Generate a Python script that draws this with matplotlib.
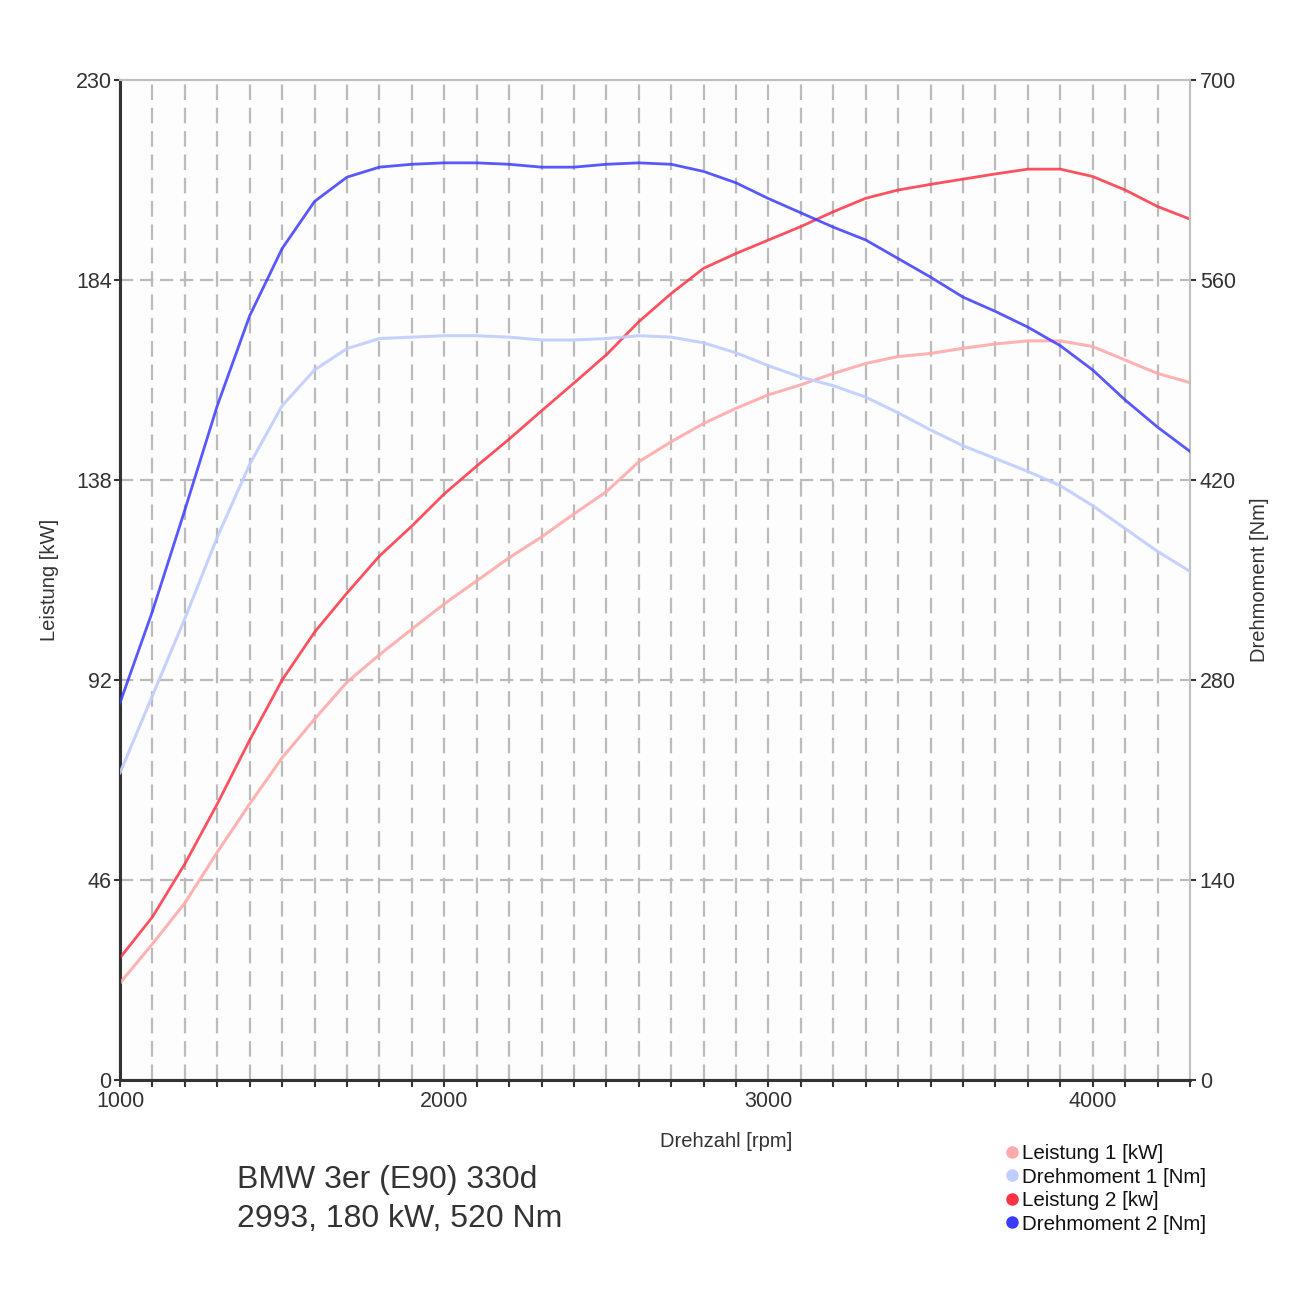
import matplotlib
matplotlib.use('Agg')
import matplotlib.pyplot as plt
from matplotlib.lines import Line2D
import numpy as np

plt.rcParams['font.family'] = ['Liberation Sans', 'DejaVu Sans']

# Drehzahl [rpm]
rpm = list(range(1000, 4301, 100))

# Leistung 1 [kW] (Serie)
leistung_1 = [22.3, 31.3, 40.7, 52.4, 63.5, 74.1, 83.0, 91.5, 97.8, 103.7,
              109.5, 114.8, 120.1, 124.9, 130.2, 135.3, 142.2, 146.8, 151.0, 154.5,
              157.6, 159.9, 162.5, 164.8, 166.4, 167.1, 168.3, 169.3, 170.0, 170.0,
              168.7, 165.6, 162.5, 160.4]
# Drehmoment 1 [Nm]
drehmoment_1 = [215, 269, 323, 380, 431, 472, 497, 512, 519, 520,
                521, 521, 520, 518, 518, 519, 521, 520, 516, 509,
                500, 492, 486, 478, 467, 455, 444, 435, 426, 416,
                402, 386, 370, 356]
# Leistung 2 [kW] (optimiert)
leistung_2 = [28.1, 37.5, 49.7, 63.5, 78.2, 92.0, 103.0, 112.0, 120.5, 127.4,
              134.8, 141.2, 147.4, 153.9, 160.3, 166.8, 174.4, 180.9, 186.7, 190.1,
              193.2, 196.3, 199.7, 202.8, 204.7, 206.0, 207.2, 208.4, 209.5, 209.5,
              207.8, 204.7, 200.9, 198.0]
# Drehmoment 2 [Nm]
drehmoment_2 = [264, 328, 399, 472, 535, 582, 615, 632, 639, 641,
                642, 642, 641, 639, 639, 641, 642, 641, 636, 628,
                617, 607, 597, 588, 575, 562, 548, 538, 527, 514,
                497, 476, 457, 440]

kw_ticks = [0, 46, 92, 138, 184, 230]
nm_ticks = [0, 140, 280, 420, 560, 700]

c_l1 = '#ffaaaa'
c_d1 = '#c2cdff'
c_l2 = '#ff3344'
c_d2 = '#3b3bff'
txt = '#333333'
grid_c = '#bbbbbb'

fig = plt.figure(figsize=(13, 13), dpi=100)
ax = fig.add_axes([120/1300, 1 - 1080/1300, 1070/1300, 1000/1300])
ax.set_facecolor('#fdfdfd')
ax2 = ax.twinx()

ax.set_xlim(1000, 4300)
ax.set_ylim(0, 230)
ax2.set_ylim(0, 700)

# gitter
for r in range(1100, 4300, 100):
    ax.axvline(r, color=grid_c, lw=1.6, dashes=(7, 3.5), zorder=1)
for k in kw_ticks[1:-1]:
    ax.axhline(k, color=grid_c, lw=1.6, dashes=(6, 3), zorder=1)

ax.plot(rpm, leistung_1, color=c_l1, lw=2.2, alpha=0.9, zorder=3,
        solid_joinstyle='round')
ax2.plot(rpm, drehmoment_1, color=c_d1, lw=2.2, alpha=0.9, zorder=3,
         solid_joinstyle='round')
ax.plot(rpm, leistung_2, color=c_l2, lw=2.0, alpha=0.85, zorder=4,
        solid_joinstyle='round')
ax2.plot(rpm, drehmoment_2, color=c_d2, lw=2.0, alpha=0.85, zorder=4,
         solid_joinstyle='round')

ax.set_xticks([1000, 2000, 3000, 4000])
ax.set_xticks(range(1100, 4301, 100), minor=True)
ax.set_yticks(kw_ticks)
ax2.set_yticks(nm_ticks)

for a in (ax, ax2):
    for s in a.spines.values():
        s.set_linewidth(1.5)
    a.spines['top'].set_color('#c0c0c0')
    a.spines['right'].set_color('#c0c0c0')
    a.spines['left'].set_color(txt)
    a.spines['bottom'].set_color(txt)
ax.spines['left'].set_linewidth(2.2)
ax.spines['bottom'].set_linewidth(2.2)

ax.tick_params(axis='x', which='both', direction='out', length=5, width=1.5,
               color=txt, labelsize=15.5, labelcolor=txt, pad=3)
ax.tick_params(axis='y', direction='out', length=4, width=1.5, color=txt,
               labelsize=15.5, labelcolor=txt, pad=2)
ax2.tick_params(axis='y', direction='out', length=4, width=1.5, color=txt,
                labelsize=15.5, labelcolor=txt, pad=3)

ax.set_xlabel('Drehzahl [rpm]', fontsize=14.5, color=txt)
ax.xaxis.set_label_coords((726 - 120) / 1070, -52 / 1000)
ax.set_ylabel('Leistung [kW]', fontsize=14.5, color=txt, labelpad=12)
ax2.set_ylabel('Drehmoment [Nm]', fontsize=14.5, color=txt, labelpad=10)

fig.text(237/1300, 1 - 1180/1300, 'BMW 3er (E90) 330d', fontsize=23,
         color=txt, va='center', ha='left')
fig.text(237/1300, 1 - 1219/1300, '2993, 180 kW, 520 Nm', fontsize=23,
         color=txt, va='center', ha='left')

handles = [Line2D([], [], ls='none', marker='o', ms=8, color=c)
           for c in (c_l1, c_d1, c_l2, c_d2)]
labels = ['Leistung 1 [kW]', 'Drehmoment 1 [Nm]', 'Leistung 2 [kw]', 'Drehmoment 2 [Nm]']
fig.legend(handles, labels, loc='upper left', bbox_to_anchor=(1007/1300, 1 - 1144/1300),
           frameon=False, fontsize=14.8, handlelength=0.5, handletextpad=0.25,
           labelspacing=0.22, borderpad=0, borderaxespad=0, labelcolor='#111111')

fig.savefig('out.png', dpi=100)
